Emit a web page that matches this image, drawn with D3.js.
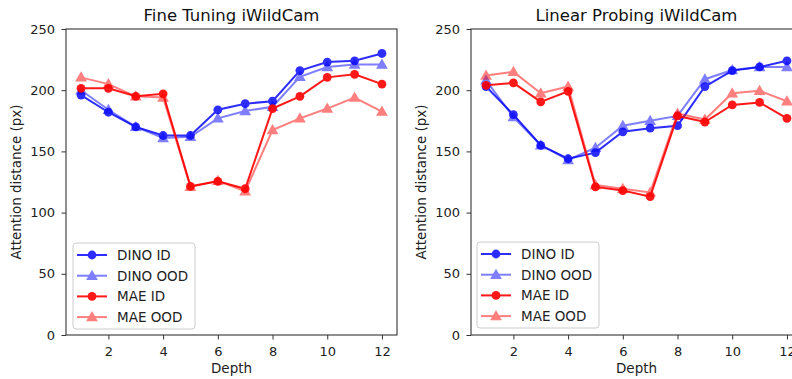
<!DOCTYPE html>
<html><head><meta charset="utf-8">
<script src="https://cdn.jsdelivr.net/npm/d3@7"></script>
<style>body{margin:0;background:#fff}svg{display:block;font-family:"DejaVu Sans",sans-serif}</style>
</head><body><svg id="c" width="792" height="379"></svg>
<script>
const depth = [1,2,3,4,5,6,7,8,9,10,11,12];
const titles = ["Fine Tuning iWildCam", "Linear Probing iWildCam"];
const seriesNames = ["DINO ID", "DINO OOD", "MAE ID", "MAE OOD"];
const xTicks = [2,4,6,8,10,12];
const yTicks = [0,50,100,150,200,250];
// Fine tuning
const ftDinoID  = [196,182,170,163,163,184,189,191,216,223,224,230];
const ftDinoOOD = [200,184,170,161,162,177,183,186.5,211,219,221,221];
const ftMaeID   = [201.5,201.5,195,197,121.5,125.5,119.5,185,195,210.5,213,205];
const ftMaeOOD  = [210.5,205,195,194,121,126,117.5,167.5,177,185,194,182.5];
// Linear probing
const lpDinoID  = [203,180,155,144,149,166,169,171,203,216,219,224];
const lpDinoOOD = [208,178,155,143,153,171,175,179,209,216.5,219,219];
const lpMaeID   = [204,206,190.5,199,121,118,113,179,174,188,190,177];
const lpMaeOOD  = [212,215,197.5,203,122.5,119.5,116.5,181,176,197.5,199.5,191];

const panels = [
  {title: titles[0], series: [ftDinoID, ftDinoOOD, ftMaeID, ftMaeOOD], x0: 66, legend:{x:73,y:243}},
  {title: titles[1], series: [lpDinoID, lpDinoOOD, lpMaeID, lpMaeOOD], x0: 471, legend:{x:477,y:242}}
];
const styles = [
  {color:"#0000ff", op:0.82, shape:"circle"},
  {color:"#0000ff", op:0.5, shape:"triangle"},
  {color:"#ff0000", op:0.9, shape:"circle"},
  {color:"#ff0000", op:0.5, shape:"triangle"}
];
const W = 331, plotTop = 29, plotBottom = 335;
const svg = d3.select("#c");
const circleSym = d3.symbol().type(d3.symbolCircle).size(Math.PI*4.4*4.4);
const triSym = d3.symbol().type(d3.symbolTriangle).size(60);

panels.forEach((p, pi) => {
  const x = d3.scaleLinear().domain([0.45, 12.55]).range([p.x0, p.x0 + W]);
  const y = d3.scaleLinear().domain([0, 250]).range([plotBottom, plotTop]);
  const g = svg.append("g");
  const clipId = "clip" + pi;
  svg.append("clipPath").attr("id", clipId).append("rect")
    .attr("x", p.x0).attr("y", plotTop).attr("width", W).attr("height", plotBottom - plotTop);
  const plot = g.append("g").attr("clip-path", `url(#${clipId})`);
  const line = d3.line().x((d,i)=>x(depth[i])).y(d=>y(d));
  p.series.forEach((s, si) => {
    const st = styles[si];
    const sg = plot.append("g").attr("opacity", st.op);
    sg.append("path").attr("d", line(s)).attr("fill","none")
      .attr("stroke", st.color).attr("stroke-width", 2);
    sg.selectAll("path.m").data(s).enter().append("path").attr("class","m")
      .attr("d", st.shape === "circle" ? circleSym : triSym)
      .attr("transform", (d,i)=>`translate(${x(depth[i])},${y(d) + (st.shape==="triangle"?0.8:0)})`)
      .attr("fill", st.color);
  });
  const xa = g.append("g").attr("transform", `translate(0,${plotBottom})`)
    .call(d3.axisBottom(x).tickValues(xTicks).tickSize(4.5).tickPadding(7).tickFormat(d3.format("d")));
  const ya = g.append("g").attr("transform", `translate(${p.x0},0)`)
    .call(d3.axisLeft(y).tickValues(yTicks).tickSize(4.5).tickPadding(6.5).tickFormat(d3.format("d")));
  [xa, ya].forEach(a => {
    a.select(".domain").remove();
    a.selectAll("text").attr("font-size", 13).attr("fill", "#222").attr("font-family","DejaVu Sans");
    a.selectAll("line").attr("stroke", "#333").attr("stroke-width", 1);
  });
  g.append("rect").attr("x", p.x0).attr("y", plotTop).attr("width", W).attr("height", plotBottom - plotTop)
    .attr("fill","none").attr("stroke","#333").attr("stroke-width",1.1);
  g.append("text").attr("x", p.x0 + W/2).attr("y", 21).attr("text-anchor","middle")
    .attr("font-size", 16.5).attr("fill","#111").text(p.title);
  g.append("text").attr("x", p.x0 + W/2).attr("y", 373).attr("text-anchor","middle")
    .attr("font-size", 13.5).attr("fill","#222").text("Depth");
  g.append("text").attr("transform", `translate(${p.x0 - 45},${(plotTop+plotBottom)/2}) rotate(-90)`)
    .attr("text-anchor","middle").attr("font-size", 13.5).attr("fill","#222").text("Attention distance (px)");
  const lg = g.append("g").attr("transform", `translate(${p.legend.x},${p.legend.y})`);
  lg.append("rect").attr("width", 122).attr("height", 86).attr("rx", 3)
    .attr("fill","#fff").attr("fill-opacity",0.8).attr("stroke","#ccc").attr("stroke-width",1);
  seriesNames.forEach((n, si) => {
    const st = styles[si];
    const yy = 12 + si * 20.7;
    const e = lg.append("g").attr("opacity", st.op);
    e.append("line").attr("x1", 4).attr("x2", 34).attr("y1", yy).attr("y2", yy)
      .attr("stroke", st.color).attr("stroke-width", 2);
    e.append("path").attr("d", st.shape === "circle" ? circleSym : triSym)
      .attr("transform", `translate(19,${yy + (st.shape==="triangle"?0.8:0)})`).attr("fill", st.color);
    lg.append("text").attr("x", 44).attr("y", yy + 5).attr("font-size", 13.5).attr("fill","#222").text(n);
  });
});
</script></body></html>
